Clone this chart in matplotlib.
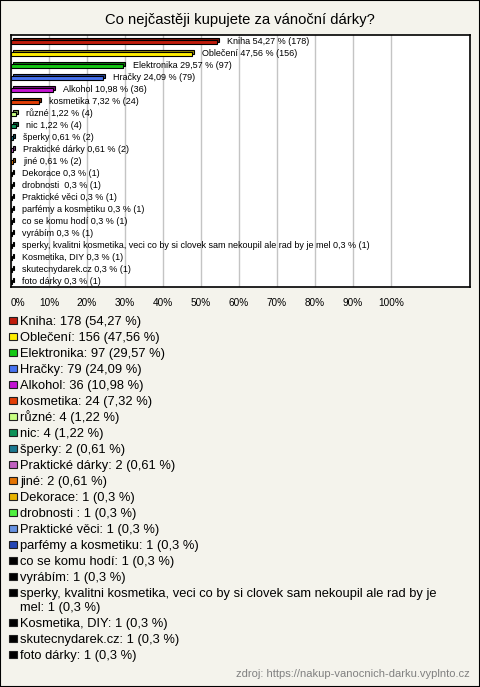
##############################################################################
# 1. modules
##############################################################################
import textwrap

import matplotlib.pyplot as plt
from matplotlib.patches import Rectangle


##############################################################################
# 2. settings / data
##############################################################################
TITLE = "Co nejčastěji kupujete za vánoční dárky?"
SOURCE = "zdroj: https://nakup-vanocnich-darku.vyplnto.cz"

CATEGORIES = [
    "Kniha", "Oblečení", "Elektronika", "Hračky", "Alkohol", "kosmetika",
    "různé", "nic", "šperky", "Praktické dárky", "jiné", "Dekorace",
    "drobnosti ", "Praktické věci", "parfémy a kosmetiku", "co se komu hodí",
    "vyrábím",
    "sperky, kvalitni kosmetika, veci co by si clovek sam nekoupil ale rad by je mel",
    "Kosmetika, DIY", "skutecnydarek.cz", "foto dárky",
]
COUNTS = [178, 156, 97, 79, 36, 24, 4, 4, 2, 2, 2, 1, 1, 1, 1, 1, 1, 1, 1, 1, 1]
PERCENTS = [54.27, 47.56, 29.57, 24.09, 10.98, 7.32, 1.22, 1.22, 0.61, 0.61,
            0.61, 0.3, 0.3, 0.3, 0.3, 0.3, 0.3, 0.3, 0.3, 0.3, 0.3]
COLORS = [
    "#c01c0c", "#ffee00", "#14c814", "#4672f0", "#c414d2", "#e23e06",
    "#c8ff82", "#0f9258", "#1a7890", "#c060c0", "#e47404", "#e8b400",
    "#50f040", "#6692e2", "#2446b4", "#000000", "#000000", "#000000",
    "#000000", "#000000", "#000000",
]
XTICKS = [0, 10, 20, 30, 40, 50, 60, 70, 80, 90, 100]

W, H = 480, 687
BG = "#f4f3ec"
FONT = "Liberation Sans"


##############################################################################
# 3. helpers
##############################################################################
def fmt(v):
    return f"{v:g}".replace(".", ",")


def darker(hex_color, k=0.6):
    r, g, b = (int(hex_color[i:i + 2], 16) for i in (1, 3, 5))
    return "#{:02x}{:02x}{:02x}".format(int(r * k), int(g * k), int(b * k))


def plot_bars(fig):
    ax = fig.add_axes([11 / W, 1 - 287 / H, 459 / W, 252 / H])
    ax.set_facecolor("white")
    ax.set_xlim(0, 459 / 3.8)
    ax.set_ylim(len(CATEGORIES) - 0.5, -0.5)

    dx = 2 / 3.8      # 3d depth, 2 px
    dy = 2 / 12
    ys = [i + 0.1 for i in range(len(CATEGORIES))]

    # back face (top / side of the 3d box)
    ax.barh([y - dy for y in ys], PERCENTS, left=dx, height=0.36,
            color=[darker(c) for c in COLORS], edgecolor="black",
            linewidth=0.8, zorder=3)
    ax.barh(ys, PERCENTS, height=0.36, color=COLORS,
            edgecolor="black", linewidth=0.8, zorder=4)

    for y, name, p, n in zip(ys, CATEGORIES, PERCENTS, COUNTS):
        ax.annotate(f"{name} {fmt(p)} % ({n})", xy=(p, y - 0.1),
                    xytext=(10, 0), textcoords="offset pixels",
                    va="center", ha="left", fontsize=6.5, family=FONT,
                    zorder=5)

    ax.set_xticks(XTICKS)
    ax.set_xticklabels([f"{t}%" for t in XTICKS], fontsize=7.2, family=FONT)
    ax.get_xticklabels()[0].set_ha("left")
    ax.tick_params(axis="x", length=0, pad=8)
    ax.set_yticks([])
    ax.grid(axis="x", color="#c4c4c4", linewidth=1, zorder=0)
    ax.set_axisbelow(True)
    for sp in ax.spines.values():
        sp.set_linewidth(1.2)


def plot_legend(fig):
    ax = fig.add_axes([0, 0, 1, 1], zorder=-1)
    ax.set_xlim(0, W)
    ax.set_ylim(H, 0)
    ax.set_axis_off()

    ax.text(W / 2, 20, TITLE, ha="center", va="center",
            fontsize=10.6, family=FONT)

    y = 320.7
    for name, p, n, c in zip(CATEGORIES, PERCENTS, COUNTS, COLORS):
        lines = textwrap.wrap(f"{name}: {n} ({fmt(p)} %)", width=76)
        ax.add_patch(Rectangle((9, y - 3.8), 7.5, 7.5, facecolor=c,
                               edgecolor="#202020", linewidth=0.8))
        for k, line in enumerate(lines):
            ax.text(20.5, y + 4.3 + 14 * k, line, ha="left", va="baseline",
                    fontsize=9.3, family=FONT)
        y += 16 + 14 * (len(lines) - 1)

    ax.text(470, 674, SOURCE, ha="right", va="center", fontsize=8,
            family=FONT, color="#808080")


##############################################################################
# 4. main
##############################################################################
def main():
    fig = plt.figure(figsize=(W / 100, H / 100), dpi=100, facecolor=BG)
    plot_legend(fig)
    plot_bars(fig)
    fig.patches.append(Rectangle((0, 0), 1, 1, transform=fig.transFigure,
                                 fill=False, edgecolor="black", linewidth=1.5))
    fig.savefig("out.png", dpi=100, facecolor=BG)


##############################################################################
# 5. run
##############################################################################
if __name__ == "__main__":
    main()
